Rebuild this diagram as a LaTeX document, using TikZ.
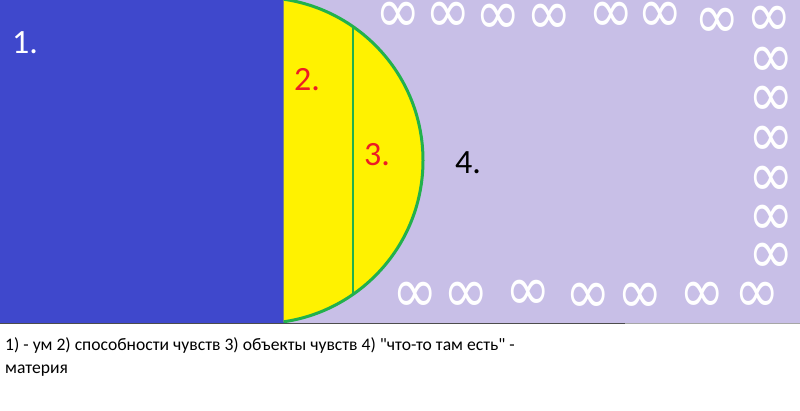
\documentclass[tikz,border=0pt]{standalone}
\usepackage{fontspec}
\setmainfont{Carlito}[Ligatures=TeXOff]
\newfontfamily\inffont{DejaVu Sans}
\definecolor{pblue}{RGB}{63,72,204}
\definecolor{pyellow}{RGB}{255,242,0}
\definecolor{plav}{RGB}{200,191,231}
\definecolor{pgreen}{RGB}{34,177,76}
\definecolor{pred}{RGB}{237,28,36}
\newcommand{\infsym}{\scalebox{1.05}[1.2]{∞}}
\begin{document}
\begin{tikzpicture}[x=1pt,y=-1pt,
  inf/.style={text=white,font=\inffont\fontsize{52}{52}\selectfont,inner sep=0pt},
  num/.style={font=\fontsize{34}{34}\selectfont,inner sep=0pt,anchor=base west},
  captext/.style={font=\fontsize{17.6}{17.6}\selectfont,inner sep=0pt,anchor=base west}]
\useasboundingbox (0,0) rectangle (800,410);
\fill[white] (0,0) rectangle (800,410);
\fill[plav] (283,0) rectangle (800,323);
\fill[pblue] (0,0) rectangle (283.5,323);
\begin{scope}
  \clip (283.5,0) rectangle (800,323);
  \fill[pyellow] (260,160.5) circle[radius=163pt];
  \begin{scope}
    \clip (260,160.5) circle[radius=163pt];
    \draw[pgreen,line width=2pt] (353,0) -- (353,323);
  \end{scope}
  \draw[pgreen,line width=3pt] (260,160.5) circle[radius=163pt];
\end{scope}
\draw[black!70,line width=1pt] (0,323.5) -- (625,323.5);
\draw[black!35,line width=1pt] (625,323.5) -- (800,323.5);
% labels
\node[num,text=white] (l1) at (12,53) {1.};
\node[num,text=pred] (l2) at (294,90) {2.};
\node[num,text=pred] (l3) at (364,165) {3.};
\node[num,text=black] (l4) at (455,173) {4.};
% infinity top row
\foreach \x/\y [count=\i] in {398/17,448/17,498/19,549/19,611/17,660/17,717/23,769/21}
  \node[inf] (t\i) at (\x,\y) {\infsym};
% right column
\foreach \y [count=\i] in {62,101,141,181,220,258}
  \node[inf] (r\i) at (771,\y) {\infsym};
% bottom row
\foreach \x/\y [count=\i] in {415/297,466/297,528/295,588/298,640/298,702/297,757/297}
  \node[inf] (b\i) at (\x,\y) {\infsym};
% caption
\node[captext] (c1) at (5,350) {1) - ум 2) способности чувств 3) объекты чувств 4) "что-то там есть" -};
\node[captext] (c2) at (5,373) {материя};
\end{tikzpicture}
\end{document}
